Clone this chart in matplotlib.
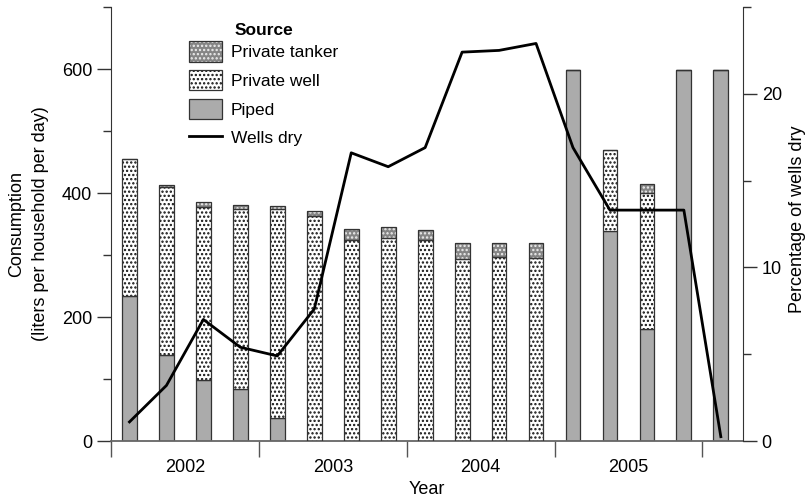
import matplotlib
matplotlib.use('Agg')
import matplotlib.pyplot as plt
from matplotlib.lines import Line2D
from matplotlib.patches import Patch
from matplotlib.legend_handler import HandlerTuple
import numpy as np

plt.rcParams['font.family'] = ['Liberation Sans', 'DejaVu Sans']
plt.rcParams['hatch.linewidth'] = 1.1

# Quarterly data, 2002 Q1 .. 2006 Q1
years = ['2002', '2003', '2004', '2005']
piped = [234, 139, 98, 84, 37, 0, 0, 0, 0, 0, 0, 0, 598, 339, 180, 598, 598]
private_well = [221, 270, 280, 290, 337, 363, 325, 328, 324, 294, 296, 295, 0, 131, 220, 0, 0]
private_tanker = [0, 4, 7, 6, 5, 8, 17, 17, 17, 26, 24, 24, 0, 0, 14, 0, 0]
wells_dry = [1.1, 3.2, 7.0, 5.4, 4.9, 7.6, 16.6, 15.8, 16.9, 22.4, 22.5, 22.9,
             16.9, 13.3, 13.3, 13.3, 0.25]

W, H = 809, 498
fig = plt.figure(figsize=(W / 100, H / 100), dpi=100)
ax = fig.add_axes([111 / W, 1 - 441 / H, (743 - 111) / W, (441 - 7) / H])

x = np.arange(len(piped))
piped_a = np.array(piped, float)
well_a = np.array(private_well, float)
tank_a = np.array(private_tanker, float)
bw = 0.4
edge = '#333333'
elw = 0.9

ax.bar(x, piped_a, bw, color='#ababab', edgecolor=edge, linewidth=elw, zorder=2)
ax.bar(x, well_a, bw, bottom=piped_a, color='white', edgecolor='#111111',
       hatch='....', linewidth=0, zorder=2)
ax.bar(x, well_a, bw, bottom=piped_a, fill=False, edgecolor=edge, linewidth=elw, zorder=3)
ax.bar(x, tank_a, bw, bottom=piped_a + well_a, color='#858585', edgecolor='#eeeeee',
       hatch='....', linewidth=0, zorder=2)
ax.bar(x, tank_a, bw, bottom=piped_a + well_a, fill=False, edgecolor=edge,
       linewidth=elw, zorder=3)

ax.set_xlim(-0.49, 16.6)
ax.set_ylim(0, 700)
ax.set_yticks([0, 200, 400, 600])
ax.set_yticks([100, 300, 500, 700], minor=True)
ax.tick_params(axis='y', which='major', length=10, width=1, labelsize=13, pad=3.5, color='#333333')
ax.tick_params(axis='y', which='minor', length=5.8, width=1, color='#333333')

n_years = len(years)
ax.set_xticks([4 * k - 0.5 for k in range(n_years + 1)])
ax.set_xticklabels([])
ax.set_xticks([4 * k + 1.5 for k in range(n_years)], minor=True)
ax.set_xticklabels(years, minor=True)
ax.tick_params(axis='x', which='major', length=11.5, width=1, color='#555555')
ax.tick_params(axis='x', which='minor', length=0, pad=13, labelsize=13)
ax.set_xlabel('Year', fontsize=13, labelpad=3.5)

ax.spines['top'].set_visible(False)
ax.spines['right'].set_visible(False)
ax.spines['left'].set_color('#333333')
ax.spines['bottom'].set_color('#666666')
ax.spines['bottom'].set_linewidth(1.3)

ax.set_ylabel('Consumption\n(liters per household per day)', fontsize=13, linespacing=1.55)
ax.yaxis.set_label_coords(-0.098, 0.5)

ax2 = ax.twinx()
ax2.plot(x, wells_dry, color='black', linewidth=2)
ax2.set_ylim(0, 25)
ax2.set_yticks([0, 10, 20])
ax2.set_yticks([5, 15, 25], minor=True)
ax2.tick_params(axis='y', which='major', length=10, width=1, labelsize=13, pad=3.5, color='#333333')
ax2.tick_params(axis='y', which='minor', length=5.8, width=1, color='#333333')
for s in ['top', 'left', 'bottom']:
    ax2.spines[s].set_visible(False)
ax2.spines['right'].set_color('#333333')
ax2.set_ylabel('Percentage of wells dry', fontsize=13, rotation=90)
ax2.yaxis.set_label_coords(1.072, 0.51)

# Legend
h_tank = (Patch(facecolor='#858585', edgecolor='#eeeeee', hatch='....', linewidth=0),
          Patch(fill=False, edgecolor=edge, linewidth=elw))
h_well = (Patch(facecolor='white', edgecolor='#111111', hatch='....', linewidth=0),
          Patch(fill=False, edgecolor=edge, linewidth=elw))
h_piped = Patch(facecolor='#ababab', edgecolor=edge, linewidth=elw)
h_line = Line2D([], [], color='black', linewidth=2)
leg = ax2.legend([h_tank, h_well, h_piped, h_line],
                 ['Private tanker', 'Private well', 'Piped', 'Wells dry'],
                 title='Source', frameon=False, fontsize=12.5,
                 title_fontproperties={'weight': 'bold', 'size': 12.5},
                 handler_map={tuple: HandlerTuple(ndivide=1, pad=0)},
                 handlelength=1.9, handleheight=1.4, handletextpad=0.5,
                 labelspacing=0.5, borderpad=0, borderaxespad=0,
                 loc='upper left', bbox_to_anchor=(189 / W, 1 - 23 / H),
                 bbox_transform=fig.transFigure)
leg._legend_box.sep = 2.5

fig.savefig('out.png', dpi=100)
